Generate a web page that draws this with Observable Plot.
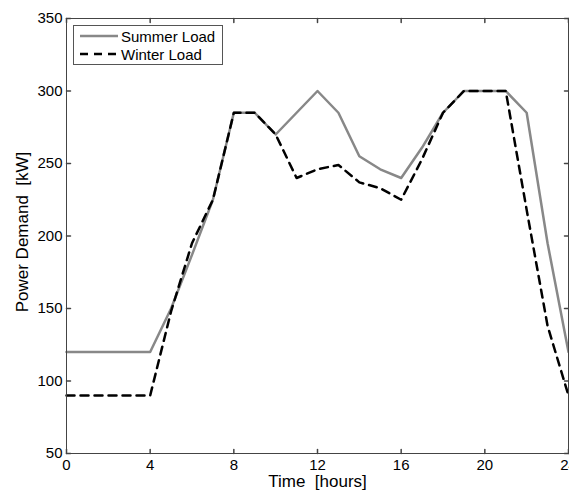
<!DOCTYPE html>
<html>
<head>
<meta charset="utf-8">
<script src="https://cdn.jsdelivr.net/npm/d3@7"></script>
<script src="https://cdn.jsdelivr.net/npm/@observablehq/plot@0.6"></script>
<style>
  html, body { margin: 0; padding: 0; background: #fff; overflow: hidden; }
  #wrap { position: relative; width: 569px; height: 490px; font-family: "Liberation Sans", Arial, sans-serif; }
  #legend { position: absolute; left: 73px; top: 25px; width: 148px; height: 38px; border: 1px solid #555; background: #fff; box-sizing: content-box; }
  .item { position: absolute; left: 0; height: 18px; display: flex; align-items: center; font-size: 15px; color: #000; white-space: nowrap; }
  .item svg { margin-left: 6px; margin-right: 3px; }
</style>
</head>
<body>
<div id="wrap"><div id="legend"></div></div>
<script>
const hours = [0,1,2,3,4,5,6,7,8,9,10,11,12,13,14,15,16,17,18,19,20,21,22,23,24];
const summerLoad = [120,120,120,120,120,150,187,225,285,285,270,285,300,285,255,246,240,261,285,300,300,300,285,195,120];
const winterLoad = [90,90,90,90,90,148,195,225,285,285,270,240,246,249,237,233,225,253,285,300,300,300,218,138,90];
const seriesNames = ["Summer Load", "Winter Load"];
const xTicks = [0,4,8,12,16,20,24];
const yTicks = [50,100,150,200,250,300,350];
const xLabel = "Time\u00a0 [hours]";
const yLabel = "Power Demand\u00a0 [kW]";

const summer = hours.map((h, i) => ({hour: h, load: summerLoad[i]}));
const winter = hours.map((h, i) => ({hour: h, load: winterLoad[i]}));

const summerColor = "#888888";
const winterColor = "#000000";
const frameColor = "#444444";
const tickShape = {draw(ctx, l) { ctx.moveTo(0, 0); ctx.lineTo(0, -l); }};

const chart = Plot.plot({
  width: 569,
  height: 490,
  marginLeft: 66,
  marginRight: 1,
  marginTop: 18,
  marginBottom: 37,
  style: {fontFamily: "Liberation Sans, Arial, sans-serif", fontSize: "15px", color: "#000", background: "#fff"},
  x: {domain: [0, 24]},
  y: {domain: [50, 350]},
  marks: [
    Plot.line(summer, {x: "hour", y: "load", stroke: summerColor, strokeWidth: 2.5}),
    Plot.line(winter, {x: "hour", y: "load", stroke: winterColor, strokeWidth: 2.5, strokeDasharray: "8,6"}),
    Plot.frame({stroke: frameColor, strokeWidth: 1}),
    Plot.axisX(xTicks, {anchor: "bottom", tickSize: 0, tickPadding: 6, label: null, fill: "#000"}),
    Plot.axisY(yTicks, {anchor: "left", tickSize: 0, tickPadding: 4, label: null, fill: "#000"}),
    Plot.vector(xTicks, {x: d => d, frameAnchor: "bottom", length: 4, rotate: 0, anchor: "start", shape: tickShape, stroke: frameColor}),
    Plot.vector(xTicks, {x: d => d, frameAnchor: "top", length: 4, rotate: 180, anchor: "start", shape: tickShape, stroke: frameColor}),
    Plot.vector(yTicks, {y: d => d, frameAnchor: "left", length: 4, rotate: 90, anchor: "start", shape: tickShape, stroke: frameColor}),
    Plot.vector(yTicks, {y: d => d, frameAnchor: "right", length: 4, rotate: 270, anchor: "start", shape: tickShape, stroke: frameColor}),
    Plot.text([xLabel], {frameAnchor: "bottom", textAnchor: "middle", lineAnchor: "middle", dy: 28, fontSize: 17, fill: "#000"}),
    Plot.text([yLabel], {frameAnchor: "left", textAnchor: "middle", lineAnchor: "middle", rotate: -90, dx: -44, dy: -4, fontSize: 17, fill: "#000"})
  ]
});
document.getElementById("wrap").prepend(chart);

const legend = document.getElementById("legend");
[[seriesNames[0], summerColor, null], [seriesNames[1], winterColor, "8,6"]].forEach(([name, color, dash], i) => {
  const item = document.createElement("div");
  item.className = "item";
  item.style.top = (1 + i * 18) + "px";
  item.innerHTML = `<svg width="38" height="6"><line x1="0" y1="3" x2="38" y2="3" stroke="${color}" stroke-width="2.5" ${dash ? `stroke-dasharray="${dash}"` : ""}/></svg><span>${name}</span>`;
  legend.appendChild(item);
});
</script>
</body>
</html>
